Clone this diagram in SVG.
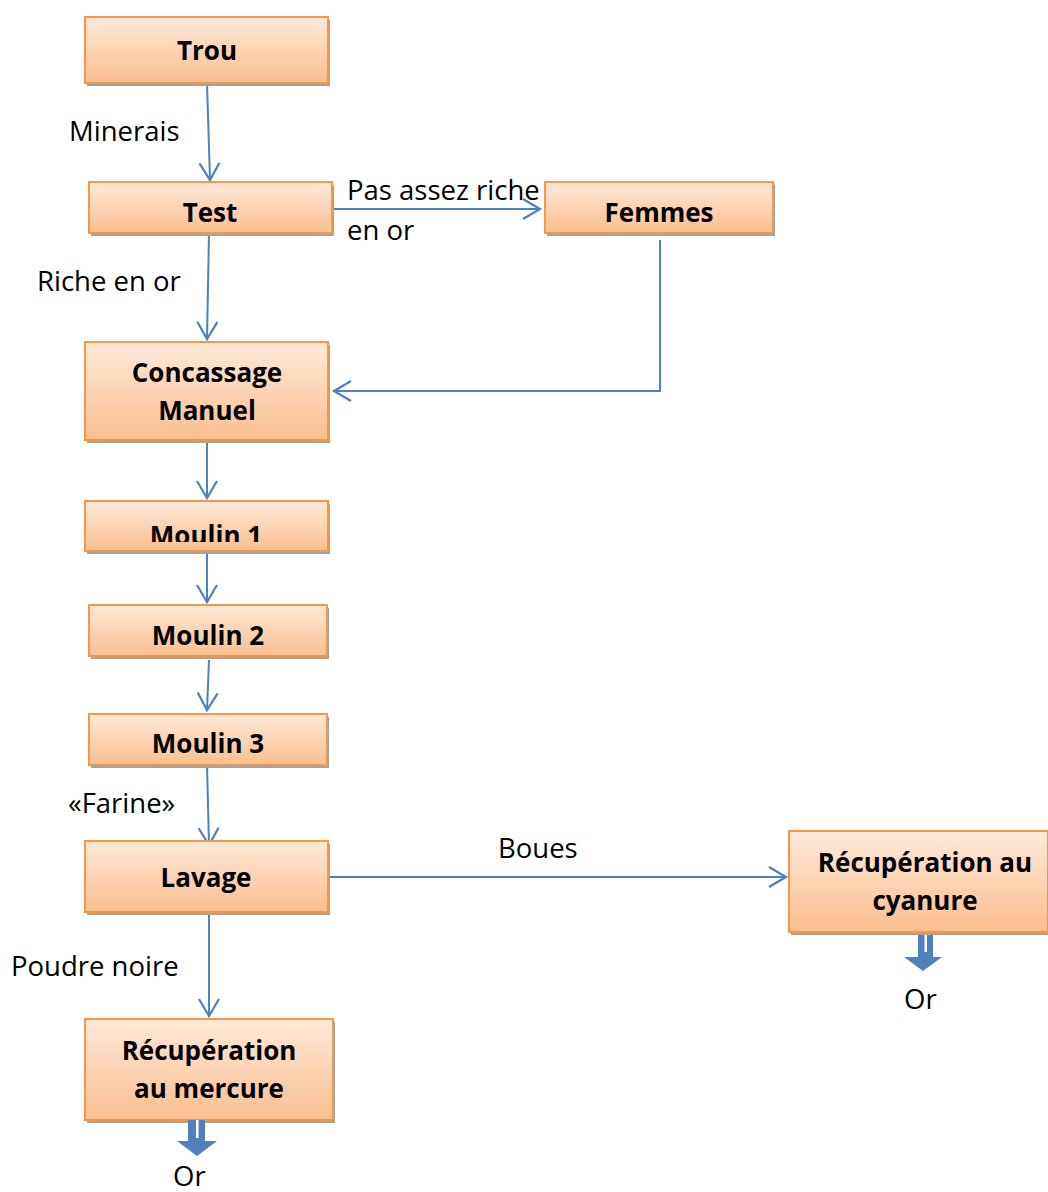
<svg xmlns="http://www.w3.org/2000/svg" width="1048" height="1192" viewBox="0 0 1048 1192">
  <defs>
    <linearGradient id="boxFill" x1="0" y1="0" x2="0" y2="1">
      <stop offset="0" stop-color="#fde9d9"/>
      <stop offset="1" stop-color="#fbbf8e"/>
    </linearGradient>
    <marker id="open" markerWidth="22" markerHeight="24" refX="19" refY="12" orient="auto" markerUnits="userSpaceOnUse">
      <path d="M2,2 L19,12 L2,22" fill="none" stroke="#4f81bd" stroke-width="2.2"/>
    </marker>
    <clipPath id="clipM1">
      <rect x="85" y="501" width="243" height="41"/>
    </clipPath>
  </defs>
  <style>
    .shadow { fill: #a3a3a3; }
    .box { fill: url(#boxFill); stroke: #f79646; stroke-width: 2; }
    .bt { font-family: "Open Sans", "Liberation Sans", sans-serif; font-weight: bold; font-size: 26px; fill: #000; text-anchor: middle; }
    .lbl { font-family: "Open Sans", "Liberation Sans", sans-serif; font-size: 27.5px; fill: #000; }
    .edge { fill: none; stroke: #4f81bd; stroke-width: 2; marker-end: url(#open); }
    .big { fill: #4f81bd; }
  </style>
  <rect width="1048" height="1192" fill="#fff"/>

  <!-- connectors -->
  <g id="connectors">
    <path class="edge" d="M207,83 L210,180"/>
    <path class="edge" d="M209,233 L207,339"/>
    <path class="edge" d="M332,209 L540,209"/>
    <path class="edge" d="M660,240 L660,391 L334,391"/>
    <path class="edge" d="M207,440 L207,498"/>
    <path class="edge" d="M207,551 L207,602"/>
    <path class="edge" d="M209,660 L207,710"/>
    <path class="edge" d="M207,765 L209,845"/>
    <path class="edge" d="M328,877 L786,877"/>
    <path class="edge" d="M209,912 L209,1016"/>
  </g>

  <g id="trou">
    <rect class="shadow" x="87" y="20" width="243" height="66"/>
    <rect class="box" x="85" y="17" width="243" height="66"/>
    <text class="bt" x="207" y="60">Trou</text>
  </g>
  <g id="test">
    <rect class="shadow" x="91" y="185" width="243" height="51"/>
    <rect class="box" x="89" y="182" width="243" height="51"/>
    <text class="bt" x="210" y="222">Test</text>
  </g>
  <g id="femmes">
    <rect class="shadow" x="547" y="185" width="228" height="51"/>
    <rect class="box" x="545" y="182" width="228" height="51"/>
    <text class="bt" x="659" y="222">Femmes</text>
  </g>
  <g id="concassage">
    <rect class="shadow" x="87" y="345" width="243" height="98"/>
    <rect class="box" x="85" y="342" width="243" height="98"/>
    <text class="bt" x="207" y="382">Concassage</text>
    <text class="bt" x="207" y="420">Manuel</text>
  </g>
  <g id="moulin1">
    <rect class="shadow" x="87" y="504" width="243" height="50"/>
    <rect class="box" x="85" y="501" width="243" height="50"/>
    <text class="bt" x="206" y="545" clip-path="url(#clipM1)">Moulin 1</text>
  </g>
  <g id="moulin2">
    <rect class="shadow" x="91" y="608" width="238" height="51"/>
    <rect class="box" x="89" y="605" width="238" height="51"/>
    <text class="bt" x="208" y="645">Moulin 2</text>
  </g>
  <g id="moulin3">
    <rect class="shadow" x="91" y="717" width="238" height="51"/>
    <rect class="box" x="89" y="714" width="238" height="51"/>
    <text class="bt" x="208" y="753">Moulin 3</text>
  </g>
  <g id="lavage">
    <rect class="shadow" x="87" y="844" width="243" height="71"/>
    <rect class="box" x="85" y="841" width="243" height="71"/>
    <text class="bt" x="206" y="887">Lavage</text>
  </g>
  <g id="cyanure">
    <rect class="shadow" x="791" y="834" width="259" height="101"/>
    <rect class="box" x="789" y="831" width="259" height="101"/>
    <text class="bt" x="925" y="872">Récupération au</text>
    <text class="bt" x="925" y="910">cyanure</text>
    <path class="big" d="M918,935 L933,935 L933,957 L942,957 L923,971 L904,957 L918,957 Z"/>
    <rect x="924.5" y="935" width="2.5" height="17" fill="#fff"/>
  </g>
  <g id="mercure">
    <rect class="shadow" x="87" y="1022" width="248" height="101"/>
    <rect class="box" x="85" y="1019" width="248" height="101"/>
    <text class="bt" x="209" y="1060">Récupération</text>
    <text class="bt" x="209" y="1098">au mercure</text>
    <path class="big" d="M188,1120 L205,1120 L205,1141 L217,1141 L197,1156 L177,1141 L188,1141 Z"/>
    <rect x="196" y="1120" width="2.5" height="18" fill="#fff"/>
  </g>

  <!-- edge labels -->
  <g id="labels">
    <text class="lbl" x="69" y="141">Minerais</text>
    <text class="lbl" x="347" y="200">Pas assez riche</text>
    <text class="lbl" x="347" y="240">en or</text>
    <text class="lbl" x="37" y="291">Riche en or</text>
    <text class="lbl" x="68" y="813">«Farine»</text>
    <text class="lbl" x="498" y="858">Boues</text>
    <text class="lbl" x="11" y="976">Poudre noire</text>
    <text class="lbl" x="904" y="1009">Or</text>
    <text class="lbl" x="173" y="1186">Or</text>
  </g>
</svg>
